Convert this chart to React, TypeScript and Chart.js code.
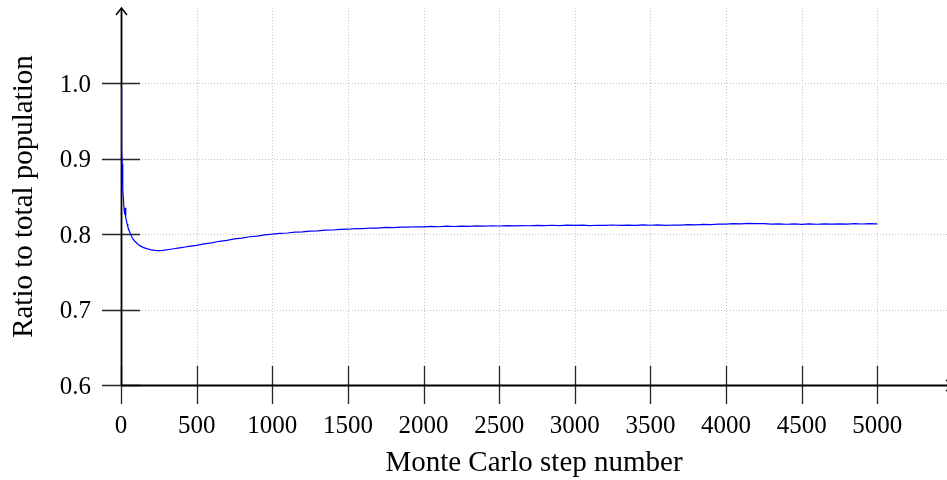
import { useEffect, useRef } from "react";
import { Chart, registerables } from "chart.js";

Chart.register(...registerables);

// Monte Carlo run: fraction of the population in the tracked state, per step.
const steps = [
  0, 2, 4, 6, 8, 10, 13, 16, 20, 23, 26, 28, 30, 33, 36, 40, 45, 50, 60, 70,
  80, 90, 100, 115, 130, 150, 175, 200, 225, 250, 275, 300, 325, 350, 375,
  400, 425, 450, 475, 500, 550, 600, 650, 700, 750, 800, 850, 900, 950, 1000,
  1050, 1100, 1150, 1200, 1250, 1300, 1350, 1400, 1450, 1500, 1550, 1600,
  1650, 1700, 1750, 1800, 1850, 1900, 1950, 2000, 2050, 2100, 2150, 2200,
  2250, 2300, 2350, 2400, 2450, 2500, 2550, 2600, 2650, 2700, 2750, 2800,
  2850, 2900, 2950, 3000, 3050, 3100, 3150, 3200, 3250, 3300, 3350, 3400,
  3450, 3500, 3550, 3600, 3650, 3700, 3750, 3800, 3850, 3900, 3950, 4000,
  4050, 4100, 4150, 4200, 4250, 4300, 4350, 4400, 4450, 4500, 4550, 4600,
  4650, 4700, 4750, 4800, 4850, 4900, 4950, 5000,
];

const ratio = [
  0.993, 0.962, 0.935, 0.912, 0.893, 0.877, 0.86, 0.847, 0.834, 0.826, 0.829,
  0.835, 0.828, 0.822, 0.818, 0.814, 0.81, 0.807, 0.8015, 0.797, 0.7935,
  0.791, 0.789, 0.786, 0.7842, 0.7822, 0.7805, 0.7793, 0.7786, 0.7783,
  0.7786, 0.7792, 0.78, 0.7807, 0.7815, 0.7822, 0.783, 0.7838, 0.7845,
  0.7852, 0.7872, 0.7885, 0.7906, 0.7918, 0.7937, 0.7948, 0.7966, 0.7975,
  0.7991, 0.8, 0.8012, 0.8016, 0.8027, 0.8031, 0.8042, 0.8044, 0.8054,
  0.8056, 0.8065, 0.8066, 0.8074, 0.8075, 0.8082, 0.8081, 0.809, 0.8087,
  0.8095, 0.8093, 0.8099, 0.8096, 0.8103, 0.8099, 0.8106, 0.8102, 0.8108,
  0.8105, 0.8111, 0.8106, 0.8112, 0.8109, 0.8115, 0.811, 0.8114, 0.8112,
  0.8118, 0.8113, 0.8119, 0.8115, 0.8121, 0.8116, 0.812, 0.8114, 0.8119,
  0.8117, 0.8122, 0.8116, 0.8121, 0.8118, 0.8123, 0.8119, 0.8124, 0.8118,
  0.8122, 0.812, 0.8127, 0.8124, 0.8131, 0.8127, 0.8134, 0.8133, 0.8139,
  0.8136, 0.8143, 0.8139, 0.8141, 0.8134, 0.8138, 0.8132, 0.8136, 0.8131,
  0.8137, 0.8132, 0.8136, 0.8133, 0.8138, 0.8134, 0.8139, 0.8135, 0.814,
  0.8136,
];

const xTicks = [0, 500, 1000, 1500, 2000, 2500, 3000, 3500, 4000, 4500, 5000];
const yTicks = [0.6, 0.7, 0.8, 0.9, 1.0];
const yTickLabels = ["0.6", "0.7", "0.8", "0.9", "1.0"];

const xTitle = "Monte Carlo step number";
const yTitle = "Ratio to total population";

const X_MIN = 0;
const X_MAX = 5461;
const Y_MIN = 0.6;
const Y_MAX = 1.1;

const TICK_FONT = "25px 'Liberation Serif', serif";
const TITLE_FONT = "29px 'Liberation Serif', serif";

// Draws pgfplots-style centred axes: dotted grid, crossing ticks, arrow tips.
const axesPlugin = {
  id: "middleAxes",
  beforeDatasetsDraw(chart: any) {
    const { ctx, chartArea, scales } = chart;
    const xs = scales.x;
    const ys = scales.y;
    const { left, right, top, bottom } = chartArea;

    ctx.save();

    // dotted grid
    ctx.strokeStyle = "#c4c4c4";
    ctx.lineWidth = 1;
    ctx.setLineDash([1, 2]);
    for (const v of xTicks) {
      if (v === X_MIN) continue;
      const px = Math.round(xs.getPixelForValue(v)) + 0.5;
      ctx.beginPath();
      ctx.moveTo(px, top);
      ctx.lineTo(px, bottom);
      ctx.stroke();
    }
    for (const v of yTicks) {
      if (v === Y_MIN) continue;
      const py = Math.round(ys.getPixelForValue(v)) + 0.5;
      ctx.beginPath();
      ctx.moveTo(left, py);
      ctx.lineTo(right, py);
      ctx.stroke();
    }
    ctx.setLineDash([]);

    // tick marks crossing the axes
    const tickHalf = 19;
    ctx.strokeStyle = "#262626";
    ctx.lineWidth = 1.3;
    for (const v of xTicks) {
      const px = Math.round(xs.getPixelForValue(v)) + 0.5;
      ctx.beginPath();
      ctx.moveTo(px, bottom - tickHalf);
      ctx.lineTo(px, bottom + tickHalf);
      ctx.stroke();
    }
    for (const v of yTicks) {
      const py = Math.round(ys.getPixelForValue(v)) + 0.5;
      ctx.beginPath();
      ctx.moveTo(left - tickHalf, py);
      ctx.lineTo(left + tickHalf, py);
      ctx.stroke();
    }

    // axis lines
    const ax = Math.round(xs.getPixelForValue(0)) + 0.5;
    const ay = Math.round(ys.getPixelForValue(Y_MIN)) + 0.5;
    ctx.strokeStyle = "#000";
    ctx.lineWidth = 1.8;
    ctx.beginPath();
    ctx.moveTo(ax, ay);
    ctx.lineTo(ax, top + 1);
    ctx.moveTo(ax, ay);
    ctx.lineTo(right + 6, ay);
    ctx.stroke();

    // arrow tips (the horizontal one runs off the right edge)
    ctx.lineWidth = 1.5;
    ctx.beginPath();
    ctx.moveTo(ax - 5.5, top + 7);
    ctx.lineTo(ax, top);
    ctx.lineTo(ax + 5.5, top + 7);
    ctx.moveTo(right - 1, ay - 5.5);
    ctx.lineTo(right + 6, ay);
    ctx.lineTo(right - 1, ay + 5.5);
    ctx.stroke();

    ctx.restore();
  },
  afterDraw(chart: any) {
    const { ctx, chartArea, scales } = chart;
    const xs = scales.x;
    const ys = scales.y;
    const { left, top, bottom } = chartArea;

    ctx.save();
    ctx.fillStyle = "#000";
    ctx.font = TICK_FONT;
    ctx.textBaseline = "alphabetic";

    ctx.textAlign = "center";
    for (const v of xTicks) {
      ctx.fillText(String(v), xs.getPixelForValue(v), bottom + 47.5);
    }

    ctx.textAlign = "right";
    yTicks.forEach((v, i) => {
      ctx.fillText(yTickLabels[i], left - 30, ys.getPixelForValue(v) + 8.5);
    });

    ctx.font = TITLE_FONT;
    ctx.textAlign = "center";
    ctx.fillText(xTitle, (xs.getPixelForValue(X_MIN) + chartArea.right) / 2, 470.5);

    ctx.translate(32, (top + bottom) / 2);
    ctx.rotate(-Math.PI / 2);
    ctx.fillText(yTitle, 0, 0);
    ctx.restore();
  },
};

export default function App() {
  const canvasRef = useRef<HTMLCanvasElement | null>(null);

  useEffect(() => {
    const canvas = canvasRef.current;
    if (!canvas) return;
    const points = steps.map((s, i) => ({ x: s, y: ratio[i] }));
    const chart = new Chart(canvas, {
      type: "line",
      data: {
        datasets: [
          {
            data: points,
            borderColor: "rgb(0, 0, 255)",
            borderWidth: 1.2,
            pointRadius: 0,
            tension: 0,
            fill: false,
          },
        ],
      },
      options: {
        animation: false,
        responsive: false,
        devicePixelRatio: 1,
        events: [],
        layout: { padding: { left: 121, right: 0, top: 8, bottom: 95 } },
        plugins: {
          legend: { display: false },
          tooltip: { enabled: false },
        },
        scales: {
          x: { type: "linear", display: false, min: X_MIN, max: X_MAX },
          y: { type: "linear", display: false, min: Y_MIN, max: Y_MAX },
        },
      },
      plugins: [axesPlugin],
    });
    return () => chart.destroy();
  }, []);

  return (
    <div style={{ position: "absolute", left: 0, top: 0, width: 947, height: 480, background: "#fff" }}>
      <canvas ref={canvasRef} width={947} height={480} style={{ display: "block" }} />
    </div>
  );
}
